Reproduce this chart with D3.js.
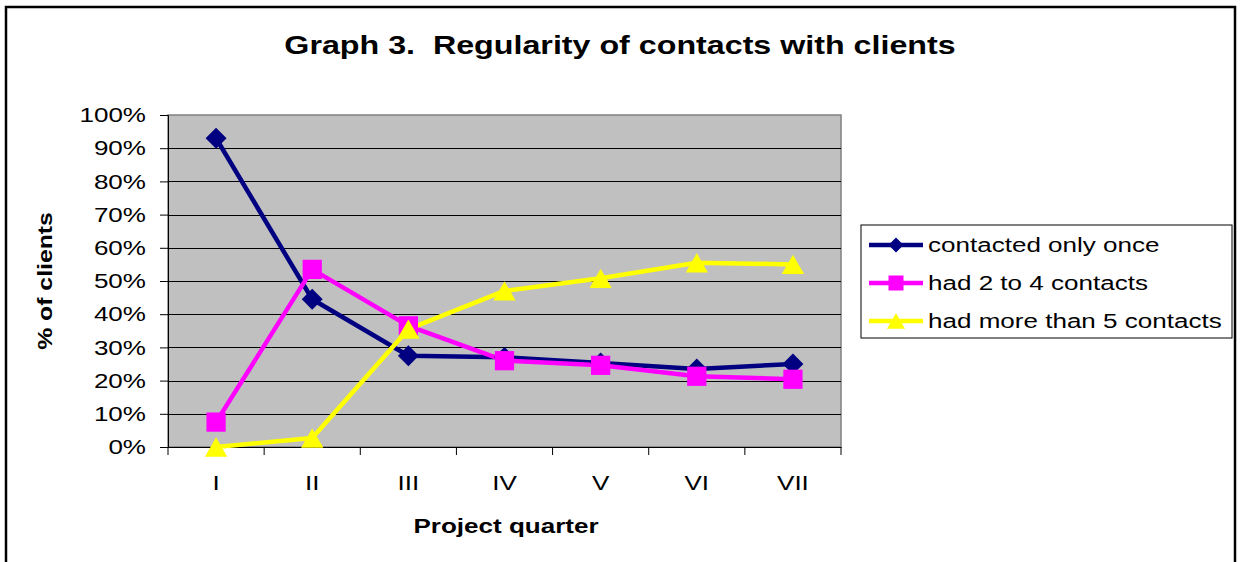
<!doctype html>
<html>
<head>
<style>
body { margin: 0; background: #fff; }
svg { font-family: Arial, "Liberation Sans", sans-serif; }
</style>
<script src="https://cdn.jsdelivr.net/npm/d3@7"></script>
</head>
<body>
<svg width="1240" height="562"></svg>
<script>
var quarters = ["I", "II", "III", "IV", "V", "VI", "VII"];
var onceValues = [93, 44.5, 27.5, 27, 25.3, 23.5, 25];
var twoToFourValues = [7.5, 53.5, 36.5, 26, 24.6, 21.3, 20.4];
var moreThanFiveValues = [0, 2.7, 35.5, 47, 50.8, 55.5, 55];
var yTicks = [0, 10, 20, 30, 40, 50, 60, 70, 80, 90, 100];

var series = [
  { name: "contacted only once", values: onceValues, color: "#000080", shape: "diamond" },
  { name: "had 2 to 4 contacts", values: twoToFourValues, color: "#FF00FF", shape: "square" },
  { name: "had more than 5 contacts", values: moreThanFiveValues, color: "#FFFF00", shape: "triangle" }
];

var svg = d3.select("svg");
var plot = { left: 168, right: 841, top: 115, bottom: 447 };
var sx = 1.24; // text in the original is drawn horizontally stretched

// outer frame
svg.append("rect")
  .attr("x", 6).attr("y", 7).attr("width", 1229).attr("height", 560)
  .attr("fill", "none").attr("stroke", "#000").attr("stroke-width", 2.5);

svg.append("text")
  .attr("transform", "translate(620,54) scale(" + sx + ",1)")
  .attr("text-anchor", "middle")
  .attr("font-size", 26).attr("font-weight", "bold")
  .attr("xml:space", "preserve")
  .text("Graph 3.  Regularity of contacts with clients");

var x = d3.scaleBand().domain(quarters).range([plot.left, plot.right]);
var y = d3.scaleLinear().domain([0, 100]).range([plot.bottom, plot.top]);

svg.append("rect")
  .attr("x", plot.left).attr("y", plot.top)
  .attr("width", plot.right - plot.left).attr("height", plot.bottom - plot.top)
  .attr("fill", "#C0C0C0").attr("stroke", "#808080").attr("stroke-width", 1.5);

// gridlines
svg.append("g").selectAll("line")
  .data(yTicks.filter(function(d) { return d > 0 && d < 100; }))
  .enter().append("line")
  .attr("x1", plot.left).attr("x2", plot.right)
  .attr("y1", function(d) { return Math.round(y(d)) + 0.5; })
  .attr("y2", function(d) { return Math.round(y(d)) + 0.5; })
  .attr("stroke", "#000").attr("stroke-width", 1);

// y axis
var yAxis = svg.append("g")
  .attr("transform", "translate(" + plot.left + ",0)")
  .call(d3.axisLeft(y).tickValues(yTicks).tickSize(8)
    .tickFormat(function(d) { return d + "%"; }));
yAxis.select(".domain").attr("stroke", "#000");
yAxis.selectAll(".tick line").attr("stroke", "#000");
yAxis.selectAll("text")
  .attr("x", -22 / sx)
  .attr("transform", "scale(" + sx + ",1)")
  .attr("font-size", 21).attr("fill", "#000")
  .attr("font-family", "Arial, 'Liberation Sans', sans-serif");

// x axis
var xAxis = svg.append("g")
  .attr("transform", "translate(0," + plot.bottom + ")")
  .call(d3.axisBottom(x).tickSize(0).tickPadding(28));
xAxis.select(".domain").attr("stroke", "#000");
xAxis.selectAll("text")
  .attr("transform", "scale(" + sx + ",1)")
  .attr("font-size", 21).attr("fill", "#000")
  .attr("font-family", "Arial, 'Liberation Sans', sans-serif");
xAxis.selectAll(".sep")
  .data(d3.range(quarters.length + 1))
  .enter().append("line")
  .attr("class", "sep")
  .attr("x1", function(i) { return plot.left + i * x.step(); })
  .attr("x2", function(i) { return plot.left + i * x.step(); })
  .attr("y1", 0).attr("y2", 8)
  .attr("stroke", "#000");

svg.append("text")
  .attr("transform", "translate(506,533) scale(" + sx + ",1)")
  .attr("text-anchor", "middle")
  .attr("font-size", 21).attr("font-weight", "bold")
  .text("Project quarter");

svg.append("text")
  .attr("transform", "translate(52,281) rotate(-90) scale(1.18,1)")
  .attr("text-anchor", "middle")
  .attr("font-size", 21).attr("font-weight", "bold")
  .text("% of clients");

var symbols = {
  diamond: d3.symbol().type(d3.symbolDiamond2).size(280),
  square: d3.symbol().type(d3.symbolSquare).size(370),
  triangle: d3.symbol().type(d3.symbolTriangle).size(215)
};
var legendSymbols = {
  diamond: d3.symbol().type(d3.symbolDiamond2).size(145),
  square: d3.symbol().type(d3.symbolSquare).size(225),
  triangle: d3.symbol().type(d3.symbolTriangle).size(140)
};
// triangle centred on its bounding box, like the original markers
function shiftY(shape, size) {
  return shape === "triangle" ? Math.sqrt(size / (Math.sqrt(3) * 3)) / 2 : 0;
}

var line = d3.line()
  .x(function(d, i) { return x(quarters[i]) + x.bandwidth() / 2; })
  .y(function(d) { return y(d); });

series.forEach(function(s) {
  svg.append("path")
    .datum(s.values)
    .attr("d", line)
    .attr("fill", "none")
    .attr("stroke", s.color)
    .attr("stroke-width", 4.5)
    .attr("stroke-linejoin", "round");
});
series.forEach(function(s) {
  svg.append("g").selectAll("path")
    .data(s.values)
    .enter().append("path")
    .attr("d", symbols[s.shape])
    .attr("transform", function(d, i) {
      return "translate(" + (x(quarters[i]) + x.bandwidth() / 2) + "," + (y(d) + shiftY(s.shape, 215)) + ")";
    })
    .attr("fill", s.color);
});

// legend
var legend = svg.append("g");
legend.append("rect")
  .attr("x", 861).attr("y", 225).attr("width", 371).attr("height", 113)
  .attr("fill", "#fff").attr("stroke", "#000").attr("stroke-width", 1);
var item = legend.selectAll(".item")
  .data(series)
  .enter().append("g")
  .attr("class", "item")
  .attr("transform", function(d, i) { return "translate(0," + (245 + i * 38) + ")"; });
item.append("line")
  .attr("x1", 869).attr("x2", 923)
  .attr("stroke", function(d) { return d.color; })
  .attr("stroke-width", 4.5);
item.append("path")
  .attr("d", function(d) { return legendSymbols[d.shape](); })
  .attr("transform", function(d) { return "translate(896," + shiftY(d.shape, 140) + ")"; })
  .attr("fill", function(d) { return d.color; });
item.append("text")
  .attr("transform", "translate(928,0) scale(" + sx + ",1)")
  .attr("dy", "0.35em")
  .attr("font-size", 21)
  .text(function(d) { return d.name; });
</script>
</body>
</html>
